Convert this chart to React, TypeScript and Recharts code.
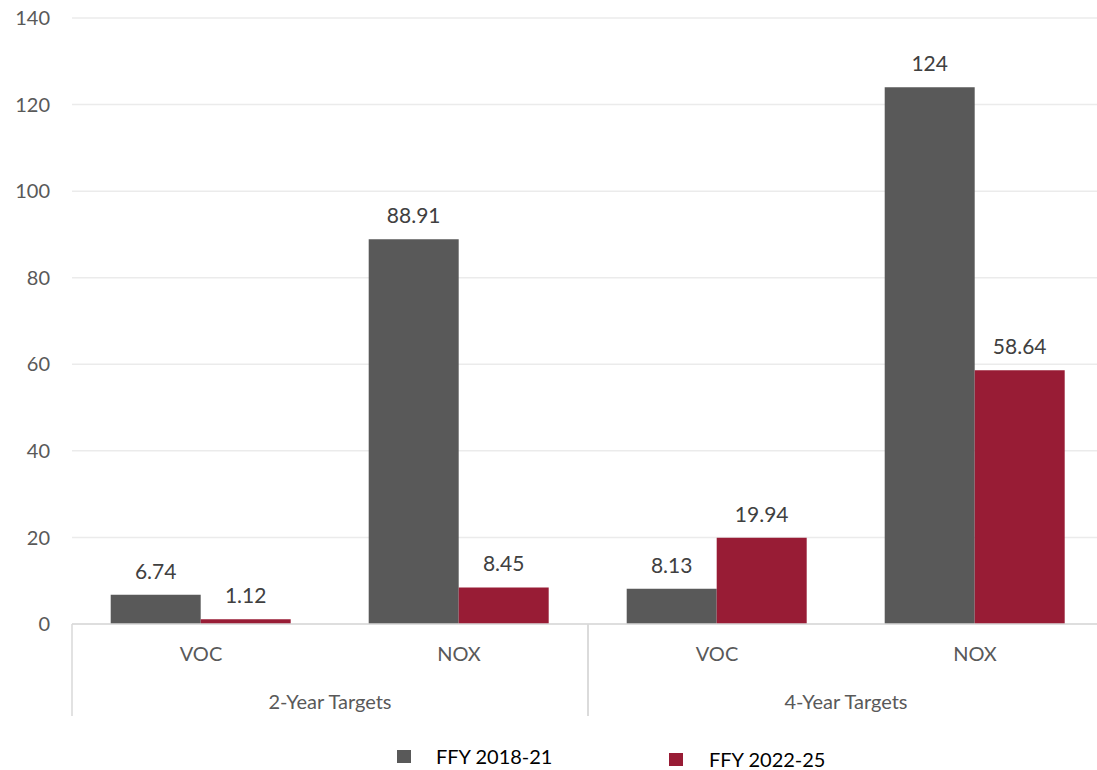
import React from 'react';
import {
  BarChart, Bar, XAxis, YAxis, CartesianGrid, Legend, LabelList,
} from 'recharts';

// Data
const pollutants = ['VOC', 'NOX', 'VOC', 'NOX'];
const targetGroups = ['2-Year Targets', '2-Year Targets', '4-Year Targets', '4-Year Targets'];
const ffy2018 = [6.74, 88.91, 8.13, 124];
const ffy2022 = [1.12, 8.45, 19.94, 58.64];
const yTicks = [0, 20, 40, 60, 80, 100, 120, 140];

const seriesNames = ['FFY 2018-21', 'FFY 2022-25'];
const seriesColors = ['#595959', '#981C35'];

const FONT = 'Lato, "Open Sans", sans-serif';
const AXIS_TEXT = '#595959';
const LINE = '#d9d9d9';

const data = pollutants.map((p, i) => ({
  pollutant: p,
  group: targetGroups[i],
  a: ffy2018[i],
  b: ffy2022[i],
}));

// group row: label plus the vertical separators of the two-level axis
const GroupTick = (props: any) => {
  const { x, y, payload } = props;
  const half = payload && payload.offset ? payload.offset : 258;
  return (
    <g>
      <line x1={x - half} x2={x - half} y1={y - 46} y2={y + 46} stroke={LINE} strokeWidth={1.5} />
      <line x1={x + half} x2={x + half} y1={y - 46} y2={y + 46} stroke={LINE} strokeWidth={1.5} />
      <text x={x} y={y + 31} textAnchor="middle" dominantBaseline="central"
        fill={AXIS_TEXT} fontSize={20} fontFamily={FONT}>
        {payload.value}
      </text>
    </g>
  );
};

const LegendContent = () => (
  <div style={{ height: 54, position: 'relative', fontFamily: FONT, fontSize: 20, color: '#000' }}>
    {seriesNames.map((name, i) => (
      <div key={name} style={{
        position: 'absolute', left: i === 0 ? 397 : 669, top: i === 0 ? 30 : 33,
        display: 'flex', alignItems: 'center',
      }}>
        <span style={{ width: 14, height: 13, background: seriesColors[i], display: 'inline-block' }} />
        <span style={{ marginLeft: i === 0 ? 25 : 26, lineHeight: '20px' }}>{name}</span>
      </div>
    ))}
  </div>
);

const App: React.FC = () => {
  return (
    <div style={{ position: 'fixed', left: 0, top: 0, width: 1097, height: 770, overflow: 'hidden', background: '#fff' }}>
      <BarChart
        width={1104}
        height={770}
        data={data}
        margin={{ top: 18, right: 0, bottom: 0, left: 0 }}
        barCategoryGap="15%"
        barGap={0}
      >
        <CartesianGrid vertical={false} stroke="#ebebeb" strokeWidth={1.5} />
        <XAxis
          xAxisId="cat"
          dataKey="pollutant"
          allowDuplicatedCategory
          height={46}
          tickLine={false}
          tickMargin={17}
          axisLine={{ stroke: LINE, strokeWidth: 1.5 }}
          tick={{ fill: AXIS_TEXT, fontSize: 20, fontFamily: FONT }}
        />
        <XAxis
          xAxisId="grp"
          dataKey="group"
          allowDuplicatedCategory={false}
          height={46}
          axisLine={false}
          tickLine={false}
          tickSize={0}
          tickMargin={0}
          interval={0}
          tick={<GroupTick />}
        />
        <YAxis
          domain={[0, 140]}
          ticks={yTicks}
          width={72}
          axisLine={false}
          tickLine={false}
          tickMargin={16}
          tick={{ fill: AXIS_TEXT, fontSize: 20, fontFamily: FONT }}
        />
        <Legend verticalAlign="bottom" content={<LegendContent />} wrapperStyle={{ height: 54 }} />
        <Bar xAxisId="cat" dataKey="a" name={seriesNames[0]} fill={seriesColors[0]} isAnimationActive={false}>
          <LabelList dataKey="a" position="top" offset={16} fill="#404040" fontSize={21} fontFamily={FONT} />
        </Bar>
        <Bar xAxisId="cat" dataKey="b" name={seriesNames[1]} fill={seriesColors[1]} isAnimationActive={false}>
          <LabelList dataKey="b" position="top" offset={16} fill="#404040" fontSize={21} fontFamily={FONT} />
        </Bar>
      </BarChart>
    </div>
  );
};

export default App;
